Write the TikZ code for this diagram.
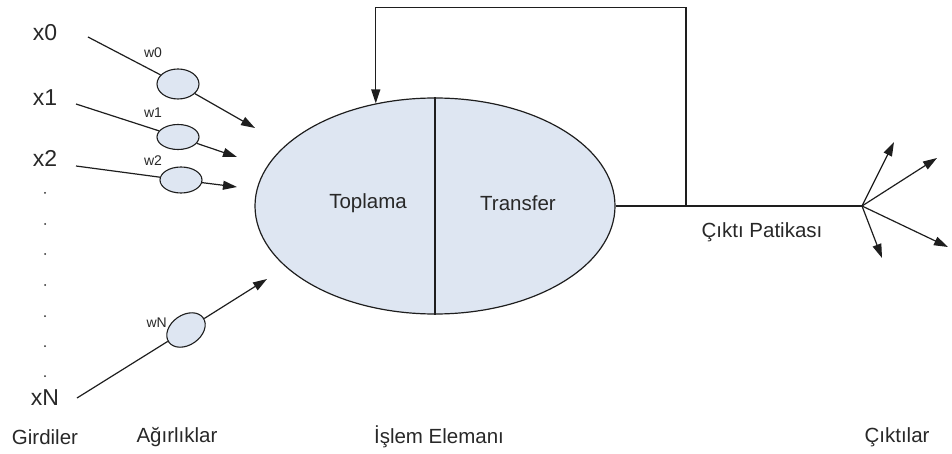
\documentclass[tikz,border=0pt]{standalone}
\usepackage{fontspec}
\setmainfont{Liberation Sans}
\usetikzlibrary{arrows.meta,shapes.geometric,calc}
\definecolor{cellfill}{RGB}{222,230,242}
\definecolor{ink}{RGB}{30,30,30}
\definecolor{txt}{RGB}{40,40,40}
\begin{document}
\begin{tikzpicture}[x=1pt,y=-1pt,
  wire/.style={draw=ink,line width=1.2pt},
  arr/.style={wire,-{Triangle[length=14pt,width=9pt]}},
  weight/.style={ellipse,draw=ink,line width=1.1pt,fill=cellfill,inner sep=0pt},
  inlabel/.style={text=txt,font=\fontsize{23}{27}\selectfont,inner sep=0pt},
  big/.style={text=txt,font=\fontsize{20.5}{24}\selectfont,inner sep=0pt},
  mid/.style={text=txt,font=\fontsize{20.5}{24}\selectfont,inner sep=0pt},
  small/.style={text=txt,font=\fontsize{14}{16}\selectfont,inner sep=0pt},
  dot/.style={circle,fill=txt,inner sep=0pt,minimum size=2pt}]
\useasboundingbox (0,0) rectangle (952,454);

% processing element
\node[ellipse,draw=ink,line width=1.2pt,fill=cellfill,minimum width=360pt,minimum height=216pt,inner sep=0pt] (pe) at (435,206) {};
\draw[wire] (pe.north) -- (pe.south);
\node[big] (sum) at (368,203) {Toplama};
\node[big] (trf) at (518,203) {Transfer};

% inputs
\node[inlabel] (x0) at (45,33) {x0};
\node[inlabel] (x1) at (45,98) {x1};
\node[inlabel] (x2) at (45,158) {x2};
\node[inlabel] (xN) at (45,398) {xN};
\foreach \i/\yy in {0/193,1/224,2/254,3/285,4/316,5/346,6/376}
  \node[dot] (d\i) at (45,\yy) {};

% weights
\node[weight,minimum width=42pt,minimum height=30pt] (w0) at (178,84) {};
\node[weight,minimum width=42pt,minimum height=25pt] (w1) at (178,137) {};
\node[weight,minimum width=42pt,minimum height=26pt] (w2) at (181,180) {};
\node[weight,minimum width=42pt,minimum height=30pt,rotate=35] (wN) at (186,330) {};
\node[small] (lw0) at (153,53) {w0};
\node[small] (lw1) at (153,113) {w1};
\node[small] (lw2) at (153,161) {w2};
\node[small,anchor=east] (lwN) at (167,323) {wN};

\coordinate (s0) at (88,37);
\coordinate (s1) at (76,104);
\coordinate (s2) at (76,166);
\coordinate (sN) at (77,398);
\coordinate (a0) at (255,128);
\coordinate (a1) at (237,157);
\coordinate (a2) at (237,187);
\coordinate (aN) at (267,279);
\draw[wire] (s0) -- (w0);
\draw[arr] (w0) -- (a0);
\draw[wire] (s1) -- (w1);
\draw[arr] (w1) -- (a1);
\draw[wire] (s2) -- (w2);
\draw[arr] (w2) -- (a2);
\draw[wire] (sN) -- (wN);
\draw[arr] (wN) -- (aN);

% output path and feedback loop
\coordinate (fb) at (686,206);
\coordinate (fork) at (862,206);
\path (pe.120.5) ++(0,-96) coordinate (fbtop);
\draw[wire] (pe.east) -- (fork);
\draw[wire] (fb) |- (fbtop);
\draw[arr] (fbtop) -- (pe.120.5);
\node[big] (path) at (762,232) {Çıktı Patikası};

% outputs
\coordinate (o1) at (894,142);
\coordinate (o2) at (937,158);
\coordinate (o3) at (948,247);
\coordinate (o4) at (882,258);
\foreach \o in {o1,o2,o3,o4}
  \draw[arr] (fork) -- (\o);

% captions
\node[mid] (c1) at (45,437) {Girdiler};
\node[mid] (c2) at (177,437) {Ağırlıklar};
\node[mid] (c3) at (439,437) {İşlem Elemanı};
\node[mid] (c4) at (897,437) {Çıktılar};
\end{tikzpicture}
\end{document}
